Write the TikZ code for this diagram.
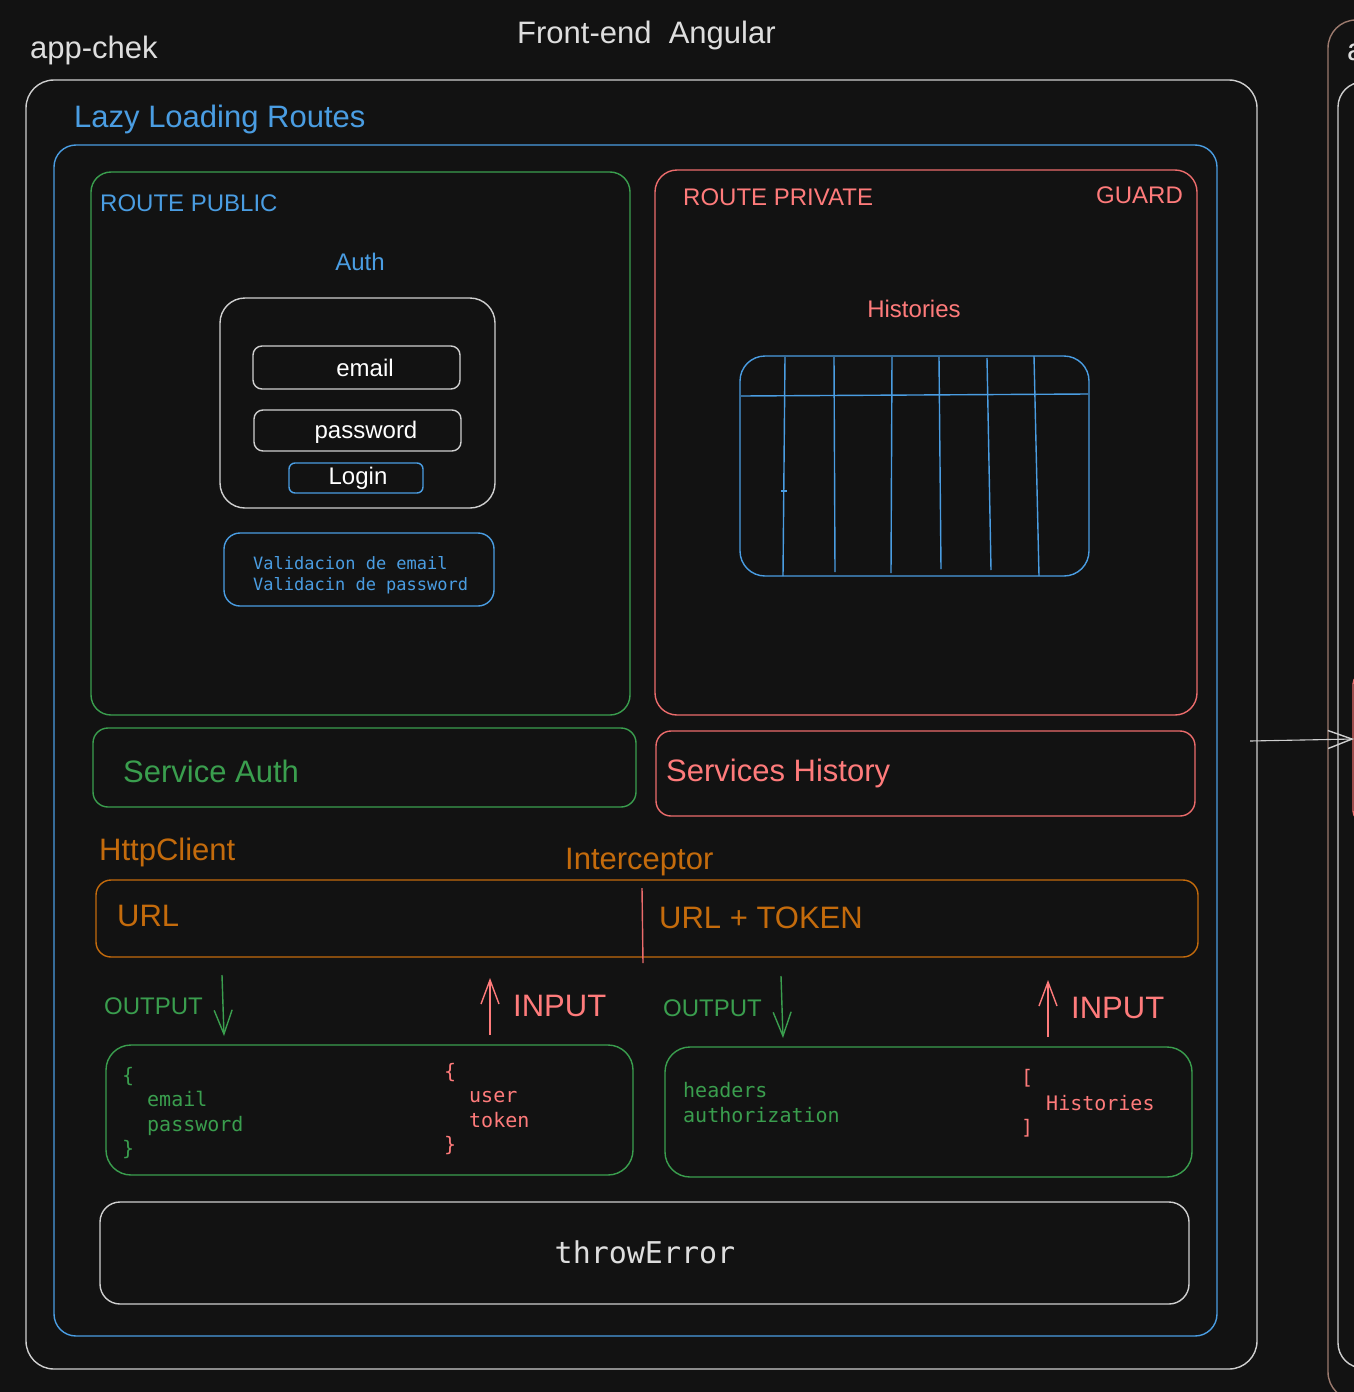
\documentclass[tikz,border=0pt]{standalone}
\usepackage{fontspec}
\setmainfont{Liberation Sans}
\newfontfamily\codefont{DejaVu Sans Mono}
\usetikzlibrary{arrows.meta}
\definecolor{bgc}{HTML}{121212}
\definecolor{fgc}{HTML}{CFCFCF}
\definecolor{txc}{HTML}{DEDEDE}
\definecolor{bluec}{HTML}{4A9DE2}
\definecolor{greenc}{HTML}{3A9E4E}
\definecolor{redc}{HTML}{FF7B7B}
\definecolor{redb}{HTML}{EC6C6C}
\definecolor{orangec}{HTML}{C46B0C}
\definecolor{brownc}{HTML}{9C7A6E}
\newcommand{\rbox}[7]{\node[boxst, draw=#6, rounded corners=#5, minimum width={#3-#1}, minimum height={#4-#2}] (#7) at (#1,#2) {};}
\tikzset{
  boxst/.style={anchor=north west, inner sep=0pt, outer sep=0pt, line width=1.4pt},
  lbl/.style={anchor=base west, inner sep=0pt},
  lblc/.style={anchor=base, inner sep=0pt},
  big/.style={font=\fontsize{31}{36}\selectfont},
  mid/.style={font=\fontsize{24}{28}\selectfont},
  code/.style={font=\codefont\fontsize{20}{25}\selectfont},
  small code/.style={font=\codefont\fontsize{17}{21}\selectfont},
  arr/.style={line width=1.4pt, -{Straight Barb[length=24pt,width=18pt,line width=1.4pt]}},
}
\begin{document}
\begin{tikzpicture}[x=1pt,y=-1pt]
\fill[bgc] (0,0) rectangle (1354,1392);
\useasboundingbox (0,0) rectangle (1354,1392);
\clip (0,0) rectangle (1354,1392);
% titles
\node[lbl, big, text=txc] (appchek) at (30,58) {app-chek};
\node[lbl, big, text=txc] (front) at (517,43) {Front-end\ \ Angular};
% outer boxes
\rbox{26}{80}{1257}{1369}{28}{fgc}{outer}
\node[lbl, big, text=bluec] (lazyt) at (74,127) {Lazy Loading Routes};
\rbox{54}{145}{1217}{1336}{22}{bluec}{lazy}
% public route
\rbox{91}{172}{630}{715}{20}{greenc}{pub}
\node[lbl, mid, text=bluec] (pubt) at (100,211) {ROUTE PUBLIC};
\node[lblc, mid, text=bluec] (autht) at (360,270) {Auth};
\rbox{220}{298}{495}{508}{25}{fgc}{form}
\rbox{253}{346}{460}{389}{9}{fgc}{emailf}
\node[lblc, mid, text=white] (emailt) at (365,376) {email};
\rbox{254}{410}{461}{451}{9}{fgc}{passf}
\node[lblc, mid, text=white] (passt) at (366,438) {password};
\rbox{289}{463}{423}{493}{6}{bluec}{login}
\node[lblc, mid, text=white] (logint) at (358,484) {Login};
\rbox{224}{533}{494}{606}{16}{bluec}{valid}
\node[lbl, small code, text=bluec] (v1) at (253,569) {Validacion de email};
\node[lbl, small code, text=bluec] (v2) at (253,590) {Validacin de password};
% private route
\rbox{655}{170}{1197}{715}{22}{redb}{priv}
\node[lbl, mid, text=redc] (privt) at (683,205) {ROUTE PRIVATE};
\node[lbl, mid, text=redc] (guardt) at (1096,203) {GUARD};
\node[lblc, mid, text=redc] (histt) at (914,317) {Histories};
\rbox{740}{356}{1089}{576}{25}{bluec}{table}
\begin{scope}[draw=bluec, line width=1.4pt]
\draw (741,396) -- (1088,394);
\draw (785,357) -- (783,576);
\draw (834,357) -- (835,572);
\draw (892,357) -- (891,573);
\draw (939,357) -- (941,569);
\draw (987,358) -- (991,570);
\draw (1034,356) -- (1039,576);
\draw (781,491) -- (787,491);
\end{scope}
% services
\rbox{93}{728}{636}{807}{15}{greenc}{sauth}
\node[lbl, big, text=greenc] (sautht) at (123,782) {Service Auth};
\rbox{656}{731}{1195}{816}{15}{redb}{shist}
\node[lbl, big, text=redc] (shistt) at (666,781) {Services History};
% http client
\node[lbl, big, text=orangec] (httpt) at (99,860) {HttpClient};
\node[lbl, big, text=orangec] (intt) at (565,869) {Interceptor};
\rbox{96}{880}{1198}{957}{15}{orangec}{http}
\coordinate (sepA) at (642,888);
\coordinate (sepB) at (643,963);
\draw[redb, line width=1.4pt] (sepA) -- (sepB);
\node[lbl, big, text=orangec] (urlt) at (117,926) {URL};
\node[lbl, big, text=orangec] (urltt) at (659,928) {URL + TOKEN};
% output / input
\node[lbl, mid, text=greenc] (out1t) at (104,1014) {OUTPUT};
\node[lbl, big, text=redc] (in1t) at (513,1016) {INPUT};
\node[lbl, mid, text=greenc] (out2t) at (663,1016) {OUTPUT};
\node[lbl, big, text=redc] (in2t) at (1071,1018) {INPUT};
\coordinate (o1a) at (222,975); \coordinate (o1b) at (224,1036);
\coordinate (i1a) at (490,1035); \coordinate (i1b) at (490,978);
\coordinate (o2a) at (781,976); \coordinate (o2b) at (783,1038);
\coordinate (i2a) at (1048,1037); \coordinate (i2b) at (1048,980);
\draw[arr, greenc] (o1a) -- (o1b);
\draw[arr, redc] (i1a) -- (i1b);
\draw[arr, greenc] (o2a) -- (o2b);
\draw[arr, redc] (i2a) -- (i2b);
% payload boxes
\rbox{106}{1045}{633}{1175}{25}{greenc}{out1}
\node[lbl, code, text=greenc] (c1) at (122,1082) {\{};
\node[lbl, code, text=greenc] (c2) at (147,1106) {email};
\node[lbl, code, text=greenc] (c3) at (147,1131) {password};
\node[lbl, code, text=greenc] (c4) at (122,1155) {\}};
\node[lbl, code, text=redc] (r1) at (444,1078) {\{};
\node[lbl, code, text=redc] (r2) at (469,1102) {user};
\node[lbl, code, text=redc] (r3) at (469,1127) {token};
\node[lbl, code, text=redc] (r4) at (444,1151) {\}};
\rbox{665}{1047}{1192}{1177}{25}{greenc}{out2}
\node[lbl, code, text=greenc] (h1) at (683,1097) {headers};
\node[lbl, code, text=greenc] (h2) at (683,1122) {authorization};
\node[lbl, code, text=redc] (b1) at (1021,1084) {[};
\node[lbl, code, text=redc] (b2) at (1046,1110) {Histories};
\node[lbl, code, text=redc] (b3) at (1021,1134) {]};
% throwError
\rbox{100}{1202}{1189}{1304}{20}{fgc}{throw}
\node[lblc, font=\codefont\fontsize{30}{36}\selectfont, text=txc] (throwt) at (645,1263) {throwError};
% right partial content
\rbox{1328}{20}{1500}{1400}{28}{brownc}{rbrown}
\rbox{1338}{82}{1500}{1368}{25}{fgc}{rinner}
\rbox{1353}{674}{1450}{821}{10}{redb}{rred}
\node[lbl, big, text=txc] (rat) at (1347,60) {a};
\coordinate (rarrA) at (1250,741);
\coordinate (rarrB) at (1354,739);
\draw[arr, fgc, line width=1.1pt] (rarrA) -- (rarrB);
\end{tikzpicture}
\end{document}
